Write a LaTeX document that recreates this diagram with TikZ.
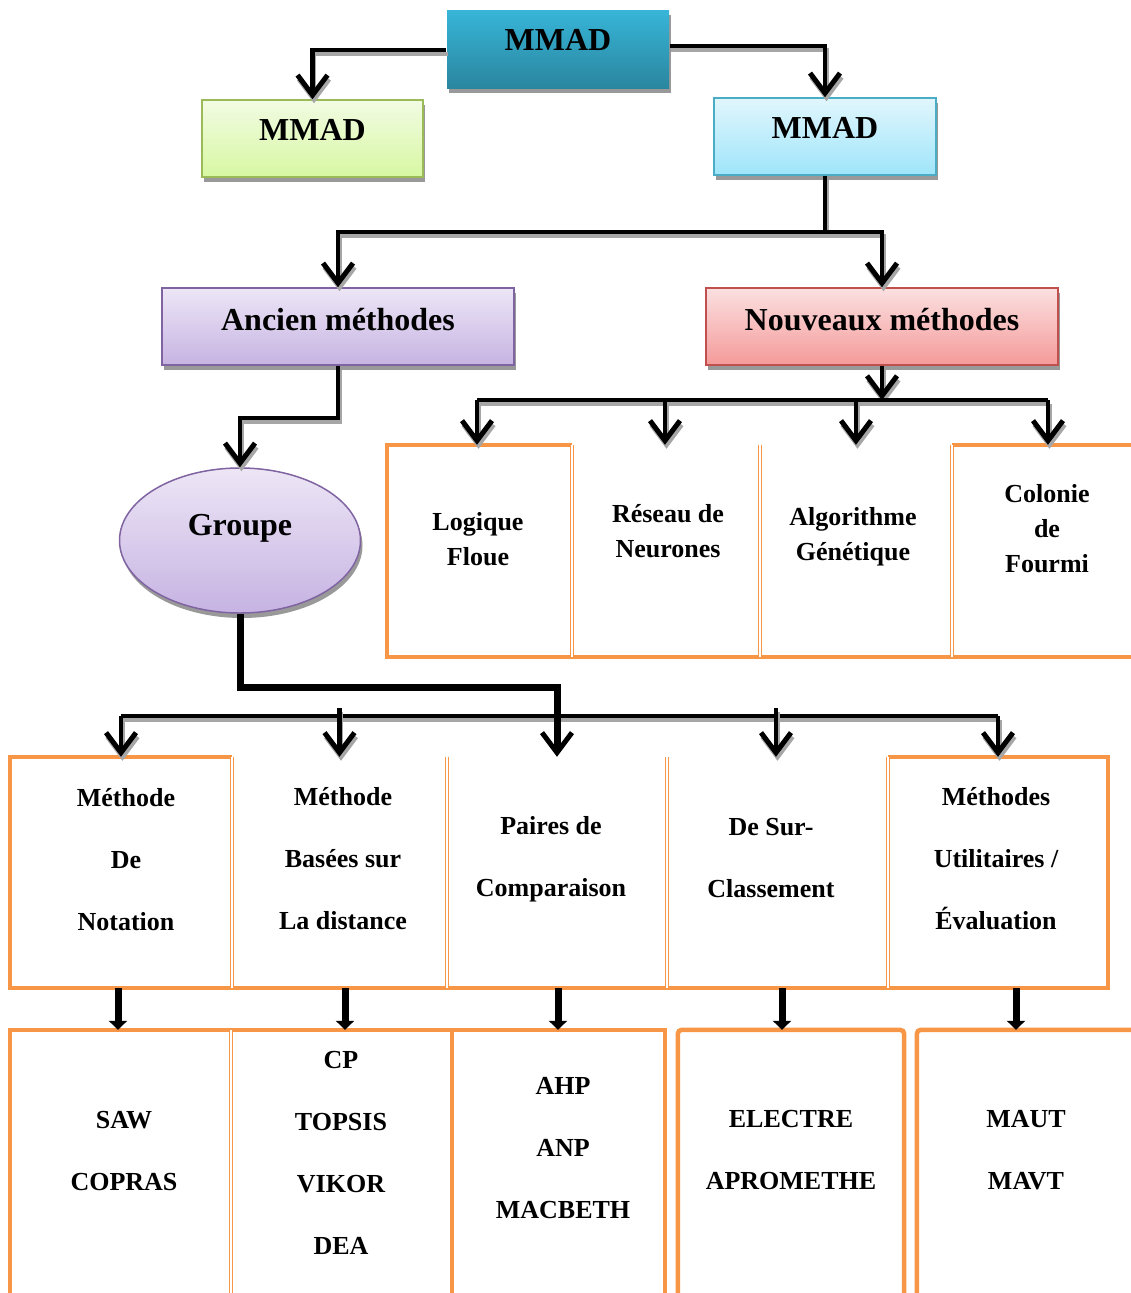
\documentclass[tikz,border=0pt]{standalone}
\usepackage{fontspec}
\setmainfont{Liberation Serif}
\usetikzlibrary{arrows.meta,shadows,shapes.geometric,calc}
\definecolor{orng}{HTML}{F79646}
\definecolor{topA}{HTML}{37B5D8}\definecolor{topB}{HTML}{2A869F}
\definecolor{grA}{HTML}{F2FBE3}\definecolor{grB}{HTML}{D7F8A2}\definecolor{grE}{HTML}{9BBB59}
\definecolor{blA}{HTML}{E1F6FD}\definecolor{blB}{HTML}{9FE5FA}\definecolor{blE}{HTML}{4BACC6}
\definecolor{puA}{HTML}{EDE6F6}\definecolor{puB}{HTML}{C6B3E2}\definecolor{puE}{HTML}{8064A2}
\definecolor{reA}{HTML}{FBE0E0}\definecolor{reB}{HTML}{F59A9A}\definecolor{reE}{HTML}{C0504D}
\begin{document}
\begin{tikzpicture}[x=1pt,y=-1pt,
  box/.style={rectangle, inner sep=0, line width=1.5pt,
    drop shadow={shadow xshift=2pt, shadow yshift=-5pt, fill=black!40, opacity=1}},
  ebox/.style={ellipse, inner sep=0, line width=1.5pt,
    drop shadow={shadow xshift=2pt, shadow yshift=-5pt, fill=black!40, opacity=1}},
  big/.style={font=\fontsize{32}{36}\selectfont\bfseries, inner sep=0},
  txt/.style={font=\fontsize{26}{35}\selectfont\bfseries, align=center, inner sep=0},
  txtw/.style={font=\fontsize{26}{62}\selectfont\bfseries, align=center, inner sep=0},
  cell/.style={rectangle, inner sep=0},
  thk/.style={draw=orng, line width=4.5pt},
  thn/.style={draw=orng, double=white, double distance=1.8pt, line width=1.3pt},
  cline/.style={line width=4.5pt, preaction={draw=black!35, line width=4.5pt, transform canvas={shift={(1.5pt,-4pt)}}}},
  conn/.style={cline, -{Straight Barb[length=20pt,width=30pt,line width=5pt]}},
  connthick/.style={line width=7pt, -{Straight Barb[length=20pt,width=30pt,line width=5pt]}},
  arr2/.style={line width=7pt, -{Triangle[length=9pt,width=18pt]}}
]
\useasboundingbox (0,0) rectangle (1130,1293);

% top boxes
\node[box, top color=topA, bottom color=topB, minimum width=222pt, minimum height=78pt] (mmad) at (558,49) {};
\node[big] (mmadT) at (558,40) {MMAD};
\node[box, draw=grE, top color=grA, bottom color=grB, minimum width=221pt, minimum height=77pt] (mmadL) at (312.5,138.5) {};
\node[big] (mmadLT) at (312.5,130) {MMAD};
\node[box, draw=blE, top color=blA, bottom color=blB, minimum width=222pt, minimum height=77pt] (mmadR) at (825,136.5) {};
\node[big] (mmadRT) at (825,128) {MMAD};

\node[box, draw=puE, top color=puA, bottom color=puB, minimum width=352pt, minimum height=77pt] (anc) at (338,326.5) {};
\node[big] (ancT) at (338,320) {Ancien méthodes};
\node[box, draw=reE, top color=reA, bottom color=reB, minimum width=352pt, minimum height=77pt] (nouv) at (882,326.5) {};
\node[big] (nouvT) at (882,320) {Nouveaux méthodes};

\node[ebox, draw=puE, top color=puA, bottom color=puB, minimum width=241pt, minimum height=145pt] (grp) at (240,540.5) {};
\node[big] (grpT) at (240,528) {Groupe};

% connectors top
\draw[conn] ([yshift=-1pt]mmad.west) -| (mmadL.north);
\draw[conn] ([yshift=3pt]mmad.east) -| (mmadR.north);
\coordinate (j1) at (825,232);
\draw[cline] (mmadR.south) -- (j1);
\draw[conn] (j1) -| (anc.north);
\draw[conn] (j1) -| (nouv.north);
\draw[conn] (anc.south) -- ++(0,52) -| (grp.north);

% middle row cells
\node[cell, minimum width=185pt, minimum height=212pt] (m1) at (479.5,551) {};
\node[cell, minimum width=188pt, minimum height=212pt] (m2) at (666,551) {};
\node[cell, minimum width=192pt, minimum height=212pt] (m3) at (856,551) {};
\node[cell, minimum width=192pt, minimum height=212pt] (m4) at (1048,551) {};
\draw[thk] (m1.north east) -- (m1.north west) -- (m1.south west) -- ([xshift=10pt]m4.south east);
\draw[thk] (m4.north west) -- ([xshift=10pt]m4.north east);
\draw[thn] (m1.north east) -- (m1.south east);
\draw[thn] (m2.north east) -- (m2.south east);
\draw[thn] (m3.north east) -- (m3.south east);

\coordinate (h1) at (882,400);
\draw[conn] (nouv.south) -- (h1);
\draw[cline] ([xshift=-2.5pt]m1.north |- h1) -- (m4.north |- h1);
\draw[conn] ([xshift=-2.5pt]m1.north |- h1) -- ([xshift=-2.5pt]m1.north);
\draw[conn] ([xshift=-1pt]m2.north |- h1) -- ([xshift=-1pt]m2.north);
\draw[conn] (m3.north |- h1) -- (m3.north);
\draw[conn] (m4.north |- h1) -- (m4.north);

\node[txt] (m1T) at (478,539) {Logique\\Floue};
\node[txt] (m2T) at (668,531) {Réseau de\\Neurones};
\node[txt] (m3T) at (853,537) {Algorithme\\Génétique};
\node[txt] (m4T) at (1047,529) {Colonie\\de\\Fourmi};

% bottom row cells
\node[cell, minimum width=222pt, minimum height=231pt] (b1) at (121,872.5) {};
\node[cell, minimum width=215pt, minimum height=231pt] (b2) at (339.5,872.5) {};
\node[cell, minimum width=220pt, minimum height=231pt] (b3) at (557,872.5) {};
\node[cell, minimum width=221pt, minimum height=231pt] (b4) at (777.5,872.5) {};
\node[cell, minimum width=220pt, minimum height=231pt] (b5) at (998,872.5) {};
\draw[thk] (b1.north east) -- (b1.north west) -- (b1.south west) -- (b5.south east) -- (b5.north east) -- (b5.north west);
\draw[thn] (b1.north east) -- (b1.south east);
\draw[thn] (b2.north east) -- (b2.south east);
\draw[thn] (b3.north east) -- (b3.south east);
\draw[thn] (b4.north east) -- (b4.south east);

\coordinate (hb) at (0,716);
\coordinate (hb2) at (0,708);
\draw[cline] (b1.north |- hb) -- (b5.north |- hb);
\draw[conn] (b1.north |- hb) -- (b1.north);
\draw[conn] (b2.north |- hb2) -- (b2.north);
\draw[conn] ([xshift=-1.5pt]b4.north |- hb2) -- ([xshift=-1.5pt]b4.north);
\draw[conn] (b5.north |- hb) -- (b5.north);
\draw[connthick] (grp.south) -- ++(0,74) -| (b3.north);

\node[txtw] (b1T) at (126,860) {Méthode\\De\\Notation};
\node[txtw] (b2T) at (343,859) {Méthode\\Basées sur\\La distance};
\node[txtw] (b3T) at (551,859) {Paires de\\Comparaison};
\node[txtw] (b4T) at (771,858) {De Sur-\\Classement};
\node[txtw] (b5T) at (996,859) {Méthodes\\Utilitaires /\\Évaluation};

% lowest row cells
\node[cell, minimum width=221pt, minimum height=270pt] (c1) at (120.5,1165) {};
\node[cell, minimum width=221pt, minimum height=270pt] (c2) at (341.5,1165) {};
\node[cell, minimum width=213pt, minimum height=270pt] (c3) at (558.5,1165) {};
\node[cell, minimum width=226pt, minimum height=270pt] (c4) at (791,1165) {};
\node[cell, minimum width=226pt, minimum height=270pt] (c5) at (1030,1165) {};
\draw[thk] (c1.south west) -- (c1.north west) -- (c3.north east) -- (c3.south east);
\draw[thn] (c1.north east) -- (c1.south east);
\draw[thk] (c2.north east) -- (c2.south east);
\draw[thk, rounded corners=4pt] (c4.south west) -- (c4.north west) -- (c4.north east) -- (c4.south east);
\draw[thk, rounded corners=4pt] (c5.south west) -- (c5.north west) -- (c5.north east) -- (c5.south east);

\draw[arr2] ([xshift=-3pt]b1.south) -- ([xshift=-3pt]b1.south |- c1.north);
\draw[arr2] ([xshift=5.5pt]b2.south) -- ([xshift=5.5pt]b2.south |- c2.north);
\draw[arr2] ([xshift=1pt]b3.south) -- ([xshift=1pt]b3.south |- c3.north);
\draw[arr2] ([xshift=4.5pt]b4.south) -- ([xshift=4.5pt]b4.south |- c4.north);
\draw[arr2] ([xshift=18pt]b5.south) -- ([xshift=18pt]b5.south |- c5.north);

\node[txtw] (c1T) at (124,1151) {SAW\\COPRAS};
\node[txtw] (c2T) at (341,1153) {CP\\TOPSIS\\VIKOR\\DEA};
\node[txtw] (c3T) at (563,1148) {AHP\\ANP\\MACBETH};
\node[txtw] (c4T) at (791,1150) {ELECTRE\\APROMETHE};
\node[txtw] (c5T) at (1026,1150) {MAUT\\MAVT};
\end{tikzpicture}
\end{document}
